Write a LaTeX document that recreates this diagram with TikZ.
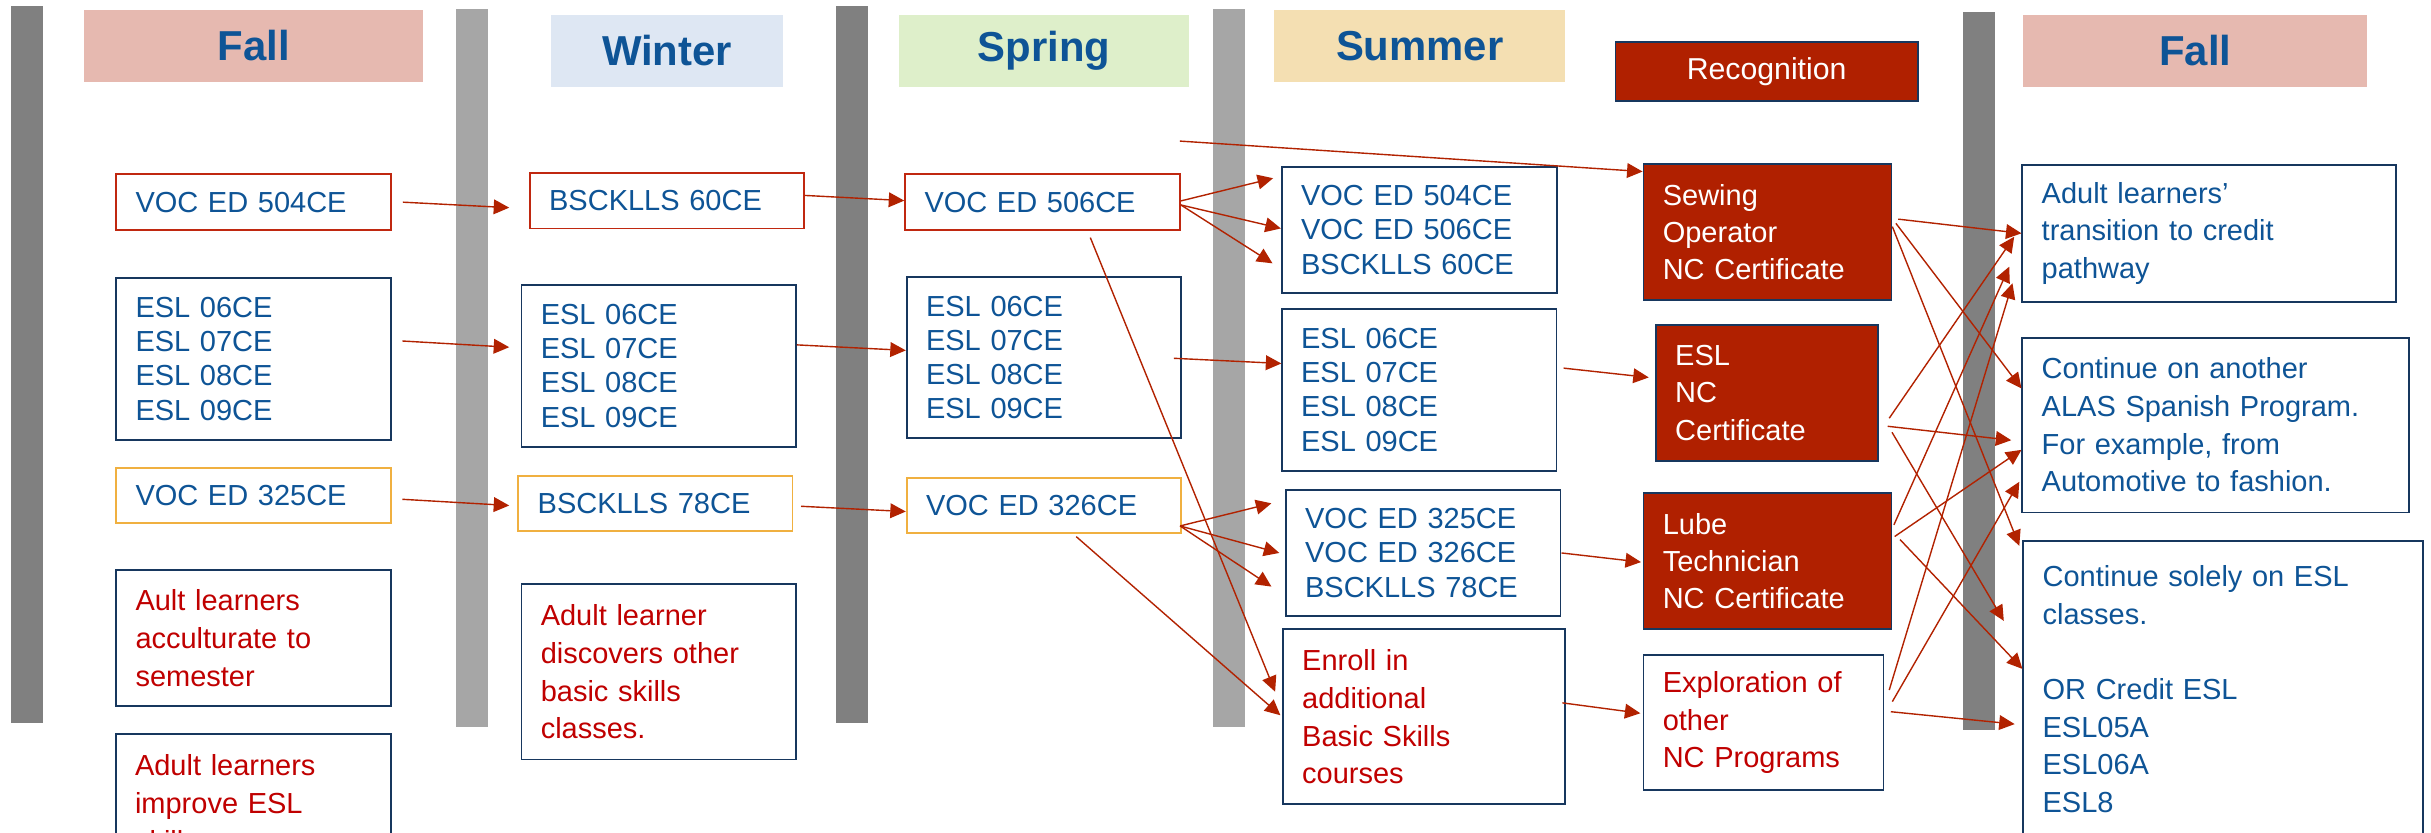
\documentclass[tikz,border=0pt]{standalone}
\usepackage{fontspec}
\setmainfont{Liberation Sans}
\usetikzlibrary{arrows.meta,calc}
\definecolor{tblue}{RGB}{14,84,150}
\definecolor{tred}{RGB}{192,0,0}
\definecolor{navy}{RGB}{23,55,94}
\definecolor{arrred}{RGB}{178,34,0}
\definecolor{certred}{RGB}{176,32,0}
\definecolor{bred}{RGB}{192,40,16}
\definecolor{borange}{RGB}{240,176,64}
\definecolor{barD}{RGB}{128,128,128}
\definecolor{barL}{RGB}{166,166,166}
\definecolor{hfall}{RGB}{230,185,176}
\definecolor{hwinter}{RGB}{222,231,243}
\definecolor{hspring}{RGB}{222,239,202}
\definecolor{hsummer}{RGB}{244,223,178}
\begin{document}
\begin{tikzpicture}[x=1pt,y=-1pt,
 geom/.code n args={4}{%
  \pgfmathsetmacro\geoW{#3-#1}%
  \pgfmathsetmacro\geoH{#4-#2}%
  \pgfmathsetmacro\geoT{#3-#1-25}%
  \pgfmathsetmacro\geoX{(#1+#3)/2}%
  \pgfmathsetmacro\geoY{(#2+#4)/2}%
  \edef\geoTmp{\noexpand\tikzset{at={(\geoX,\geoY)},minimum width=\geoW pt,minimum height=\geoH pt,text width=\geoT pt}}%
  \geoTmp},
 box/.style={draw=navy,line width=1.1pt,fill=white,inner xsep=12.5pt,inner ysep=0pt,align=left,text=tblue,font=\fontsize{18.7}{22.1}\selectfont},
 redbox/.style={box,draw=bred},
 orbox/.style={box,draw=borange},
 story/.style={box,text=tred,font=\fontsize{18.7}{24.3}\selectfont},
 note/.style={box,font=\fontsize{18.7}{24.3}\selectfont},
 cert/.style={box,fill=certred,text=white,font=\fontsize{18.7}{24}\selectfont},
 head/.style={inner sep=0pt,align=center,text=tblue,font=\fontsize{27}{32}\selectfont\bfseries},
 arr/.style={draw=arrred,line width=0.9pt,-{Triangle[length=10pt,width=9.5pt]}},
]
\useasboundingbox (0,0) rectangle (1568,537);
\clip (0,0) rectangle (1568,537);
\fill[white] (0,0) rectangle (1568,537);
% season dividers
\fill[barD] (7.1,3.9) rectangle (27.7,466.4);
\fill[barL] (294.2,5.8) rectangle (314.7,468.7);
\fill[barD] (539.3,3.9) rectangle (559.9,466.4);
\fill[barL] (782.5,5.8) rectangle (803,468.7);
\fill[barD] (1266,7.7) rectangle (1286.7,470.9);
% headers
\node[head,fill=hfall,geom={54.3}{6.5}{272.9}{52.7}] (hF1) {Fall};
\node[head,fill=hwinter,geom={355.5}{9.7}{505}{55.9}] (hW) {Winter};
\node[head,fill=hspring,geom={579.7}{9.7}{767}{55.9}] (hSp) {Spring};
\node[head,fill=hsummer,geom={822}{6.5}{1009.5}{52.7}] (hSu) {Summer};
\node[cert,align=center,font=\fontsize{19.5}{24}\selectfont,geom={1042}{27.3}{1237}{65.1}] (hR) {Recognition};
\node[head,fill=hfall,geom={1305}{9.7}{1527}{55.9}] (hF2) {Fall};
% Fall
\node[redbox,geom={74.9}{112.4}{252.3}{148.4}] (c1a) {VOC ED 504CE};
\node[box,geom={74.9}{179.1}{252.3}{283.8}] (c1b) {ESL 06CE\\ESL 07CE\\ESL 08CE\\ESL 09CE};
\node[orbox,geom={74.9}{302}{252.3}{337.5}] (c1c) {VOC ED 325CE};
\node[story,geom={74.9}{367.6}{252.3}{455.4}] (c1d) {Ault learners\\acculturate to\\semester};
\node[story,geom={74.6}{473.6}{252}{562.4}] (c1e) {Adult learners\\improve ESL\\skills};
% Winter
\node[redbox,geom={341.7}{111.4}{518.5}{147.3}] (c2a) {BSCKLLS 60CE};
\node[box,geom={336.3}{183.8}{513.4}{288.1}] (c2b) {ESL 06CE\\ESL 07CE\\ESL 08CE\\ESL 09CE};
\node[orbox,geom={334.3}{306.8}{511.1}{342.3}] (c2c) {BSCKLLS 78CE};
\node[story,geom={336.3}{376.9}{513.4}{489.8}] (c2d) {Adult learner\\discovers other\\basic skills\\classes.};
% Spring
\node[redbox,geom={583.8}{112.4}{760.9}{148.4}] (c3a) {VOC ED 506CE};
\node[box,geom={584.8}{178.5}{761.6}{282.7}] (c3b) {ESL 06CE\\ESL 07CE\\ESL 08CE\\ESL 09CE};
\node[orbox,geom={584.8}{308.3}{761.6}{343.6}] (c3c) {VOC ED 326CE};
% Summer
\node[box,geom={826.7}{107.5}{1004.2}{189.2}] (c4a) {VOC ED 504CE\\VOC ED 506CE\\BSCKLLS 60CE};
\node[box,geom={826.7}{199.3}{1004}{303.6}] (c4b) {ESL 06CE\\ESL 07CE\\ESL 08CE\\ESL 09CE};
\node[box,geom={829.3}{316}{1006.6}{397.3}] (c4c) {VOC ED 325CE\\VOC ED 326CE\\BSCKLLS 78CE};
\node[story,geom={827.4}{405.9}{1009.2}{518.8}] (c4d) {Enroll in\\additional\\Basic Skills\\courses};
% Recognition
\node[cert,geom={1060}{105.8}{1220}{193.5}] (c5a) {Sewing\\Operator\\NC Certificate};
\node[cert,geom={1068}{209.6}{1211.4}{297.3}] (c5b) {ESL\\NC\\Certificate};
\node[cert,geom={1060}{318.2}{1220}{405.9}] (c5c) {Lube\\Technician\\NC Certificate};
\node[story,font=\fontsize{18.7}{24}\selectfont,geom={1060}{422.5}{1214.9}{509.6}] (c5d) {Exploration of\\other\\NC Programs};
% Fall (next year)
\node[note,geom={1304.4}{106.4}{1545.2}{194.6}] (c6a) {Adult learners’\\transition to credit\\pathway};
\node[note,geom={1304.4}{217.8}{1553.8}{330.5}] (c6b) {Continue on another\\ALAS Spanish Program.\\For example, from\\Automotive to fashion.};
\node[note,geom={1305}{349}{1562.6}{540}] (c6c) {Continue solely on ESL\\classes.\\[24.3pt]OR Credit ESL\\ESL05A\\ESL06A\\ESL8};
% connectors
\coordinate (src) at (761,91);
\draw[arr] ($(c1a.east)+(7,0)$) -- ($(c2a.west)+(-12.7,4.6)$);
\draw[arr] ($(c1b.east)+(6.7,-11.5)$) -- ($(c2b.west)+(-7.3,-12)$);
\draw[arr] ($(c1c.east)+(6.7,2.3)$) -- ($(c2c.west)+(-5.3,1.5)$);
\draw[arr] ($(c2a.east)+(0,-3.3)$) -- ($(c3a.west)+(0,-1)$);
\draw[arr] ($(c2b.east)+(0,-13.5)$) -- ($(c3b.west)+(0,-4.6)$);
\draw[arr] ($(c2c.east)+(5,2)$) -- ($(c3c.west)+(0,4)$);
\draw[arr] ($(c3a.east)+(0.2,-0.8)$) -- ($(c4a.west)+(-5,-33.4)$);
\draw[arr] ($(c3a.east)+(0.2,1.8)$) -- ($(c4a.west)+(0,-1)$);
\draw[arr] ($(c3a.east)+(0.2,1.8)$) -- ($(c4a.west)+(-5.4,21.5)$);
\draw[arr] ($(c3a.south)+(30.9,4.3)$) -- ($(c4d.west)+(-4.4,-16.2)$);
\draw[arr] ($(c3b.east)+(-5,0.5)$) -- ($(c4b.west)+(0.3,-17)$);
\draw[arr] ($(c3c.east)+(-1,13.3)$) -- ($(c4c.west)+(-8.7,-32)$);
\draw[arr] ($(c3c.east)+(-1,13.3)$) -- ($(c4c.west)+(-3.6,0)$);
\draw[arr] ($(c3c.east)+(-1,13.3)$) -- ($(c4c.west)+(-8.7,21.7)$);
\draw[arr] ($(c3c.south)+(21,2)$) -- ($(c4d.west)+(-1,-1)$);
\draw[arr] (src) -- ($(c5a.west)+(0,-39)$);
\draw[arr] ($(c4b.east)+(4,-14)$) -- ($(c5b.west)+(-4,-10)$);
\draw[arr] (c4c.east) -- ($(c5c.west)+(-1,0.5)$);
\draw[arr] ($(c4d.east)+(-2,-9)$) -- ($(c5d.west)+(-1.4,-6)$);
\draw[arr] ($(c5a.east)+(3.8,-8.3)$) -- (c6a.west);
\draw[arr] ($(c5a.east)+(2.3,-5.6)$) -- ($(c6b.west)+(0,-23.6)$);
\draw[arr] ($(c5a.east)+(0,-3.5)$) -- ($(c6c.north west)+(-2,3.6)$);
\draw[arr] ($(c5b.east)+(6.6,16.3)$) -- ($(c6a.west)+(-4.7,2.2)$);
\draw[arr] ($(c5b.east)+(5.6,21.5)$) -- ($(c6b.west)+(-6.6,9.8)$);
\draw[arr] ($(c5b.east)+(8.4,25.4)$) -- ($(c6c.north west)+(-12,52)$);
\draw[arr] ($(c5c.east)+(1,-23.5)$) -- ($(c6a.west)+(-7.9,21.5)$);
\draw[arr] ($(c5c.east)+(1.5,-16)$) -- ($(c6b.west)+(0,16)$);
\draw[arr] ($(c5c.east)+(5,-14)$) -- ($(c6c.north west)+(0,83)$);
\draw[arr] ($(c5d.east)+(3.1,-21)$) -- ($(c6a.west)+(-5.8,32.2)$);
\draw[arr] ($(c5d.east)+(5.1,-13.5)$) -- ($(c6b.west)+(-1.4,36.6)$);
\draw[arr] ($(c5d.east)+(4.1,-7)$) -- ($(c6c.north west)+(-5,118.6)$);
\end{tikzpicture}
\end{document}
